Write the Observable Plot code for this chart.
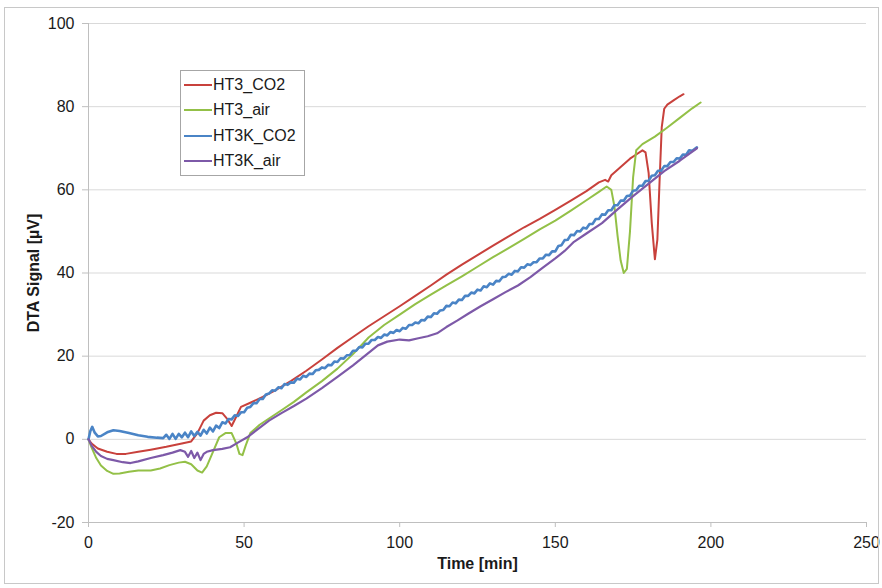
<!DOCTYPE html>
<html>
<head>
<meta charset="utf-8">
<script src="https://cdn.jsdelivr.net/npm/d3@7"></script>
<script src="https://cdn.jsdelivr.net/npm/@observablehq/plot@0.6"></script>
<style>
  html, body { margin: 0; padding: 0; background: #fff; }
  #wrap { position: relative; width: 882px; height: 588px; overflow: hidden; font-family: 'Liberation Sans', Arial, sans-serif; }
  #frame { position: absolute; left: 4px; top: 7px; width: 875px; height: 577px; border: 1px solid #c8c8c8; box-sizing: border-box; pointer-events: none; }
  #legend { position: absolute; left: 180px; top: 70px; width: 125px; height: 106px; border: 1px solid #a6a6a6; background: #fff; box-sizing: border-box; padding-top: 1px; }
  .row { height: 25.5px; display: flex; align-items: center; font-size: 16px; color: #1a1a1a; }
  .row svg { margin-left: 3px; margin-right: 1px; }
  svg [aria-label="x-axis tick"], svg [aria-label="y-axis tick"] { stroke: #bfbfbf; }
  svg [aria-label="x-axis label"], svg [aria-label="y-axis label"],
  svg [aria-label="x-axis label"] text, svg [aria-label="y-axis label"] text { font-weight: bold; }
</style>
</head>
<body>
<div id="wrap">
  <div id="chart"></div>
  <div id="legend"></div>
  <div id="frame"></div>
</div>
<script>
// ---- data (time [min], DTA signal [µV]) ----
const seriesNames = ["HT3_CO2", "HT3_air", "HT3K_CO2", "HT3K_air"];
const seriesColors = ["#C8413C", "#93C047", "#4A84C6", "#7D59A8"];
const xTicks = [0, 50, 100, 150, 200, 250];
const yTicks = [-20, 0, 20, 40, 60, 80, 100];
const gridY = [0, 20, 40, 60, 80, 100];

const ht3CO2 = [
  [0,0],[1,-1],[3,-2.2],[6,-3],[9,-3.5],[12,-3.5],[16,-3],[20,-2.5],[25,-1.8],[30,-1],[33,-0.5],
  [35,1.5],[37,4.5],[39,5.8],[41,6.4],[43,6.3],[44.5,5],[46,3.2],[47.5,5.5],[49,7.8],[52,8.8],
  [56,10.2],[60,11.8],[65,14],[70,16.5],[75,19.2],[80,22],[85,24.6],[90,27.2],[95,29.6],[100,32],
  [105,34.5],[110,37],[115,39.6],[120,42],[125,44.3],[130,46.6],[135,48.8],[140,51],[145,53],
  [150,55.2],[155,57.4],[160,59.7],[164,61.8],[166,62.4],[167,62],[168,63.5],[171,65.5],[174,67.5],
  [176,68.5],[178,69.5],[179,69],[180,64],[181,52],[182,43.3],[182.8,48],[183.5,62],[184.2,75],
  [185,79.5],[186,80.5],[188,81.5],[190,82.5],[191.2,83]
];
const ht3Air = [
  [0,0],[1,-2],[2.5,-4.5],[4,-6.3],[6,-7.6],[8,-8.3],[10,-8.2],[13,-7.8],[16,-7.5],[20,-7.5],
  [23,-7],[26,-6.2],[29,-5.6],[31,-5.4],[33,-6],[35,-7.5],[36.5,-8],[38,-6.5],[40,-3],[42,0.5],
  [44,1.5],[46,1.5],[47.5,-1],[48.5,-3.5],[49.5,-3.8],[50.5,-1.5],[52,1.5],[55,3.5],[58,5],
  [62,7],[66,9],[70,11.3],[75,14],[80,17],[85,20.5],[90,24.5],[95,27.5],[100,30],[105,32.5],
  [110,34.8],[115,37],[120,39.2],[125,41.5],[130,43.8],[135,46],[140,48.2],[145,50.5],[150,52.6],
  [155,55],[160,57.5],[164,59.5],[166.5,60.8],[168,60],[169,56],[170,49],[171,43],[172,40],
  [173,41],[174,50],[175,63],[176,69.5],[178,71],[182,72.8],[186,75],[190,77.3],[194,79.6],[196.7,81]
];
const ht3kCO2 = [
  [0,0],[0.6,2],[1.2,3],[2,1.6],[3,0.7],[4,0.8],[6,1.7],[8,2.2],[10,2],[13,1.5],[16,1],[19,0.6],
  [22,0.4],[24,0.3],[25,1.1],[26,0.1],[27,1.3],[28,0.1],[29,1.3],[30,0.5],[31,1.6],[32,0.5],[33,1.9],
  [34,0.8],[35,1.8],[36,0.9],[37,2.3],[38,1.4],[39,2.8],[40,1.9],[41,3.3],[42,2.7],[43,4.1],[44,3.8],
  [45,4.9],[46,4.8],[47,5.8],[48,5.6],[49,6.5],[50,6.5],[51,7.6],[52,7.8],[53,8.7],[54,8.7],[55,9.7],
  [56,9.7],[57,10.8],[58,11],[59,11.8],[60,11.7],[61,12.5],[62,12.3],[63,13.3],[64,13.1],[65,13.7],
  [66,13.6],[67,14.6],[68,14.4],[69,15.3],[70,15],[71,15.8],[72,15.7],[73,16.6],[74,16.7],[75,17.3],
  [76,17.1],[77,17.9],[78,17.8],[79,18.7],[80,18.6],[81,19.5],[82,19.4],[83,20.2],[84,20.3],[85,21.3],
  [86,21.3],[87,22.2],[88,22.1],[89,23],[90,23],[91,23.9],[92,23.9],[93,24.6],[94,24.4],[95,25.2],
  [96,25],[97,25.8],[98,25.6],[99,26.3],[100,26],[101,26.8],[102,26.6],[103,27.5],[104,27.5],[105,28.1],
  [106,27.9],[107,28.7],[108,28.6],[109,29.5],[110,29.4],[111,30.3],[112,30.2],[113,31],[114,31.1],
  [115,32.1],[116,32],[117,32.9],[118,32.7],[119,33.6],[120,33.5],[121,34.5],[122,34.5],[123,35.3],
  [124,35.1],[125,36],[126,35.8],[127,36.8],[128,36.6],[129,37.5],[130,37.2],[131,38.1],[132,38],
  [133,39],[134,39.1],[135,39.8],[136,39.6],[137,40.5],[138,40.4],[139,41.4],[140,41.3],[141,42.1],
  [142,41.9],[143,42.6],[144,42.6],[145,43.5],[146,43.5],[147,44.4],[148,44.3],[149,45.2],[150,45.2],
  [151,46.5],[152,46.7],[153,47.9],[154,48],[155,49.2],[156,49.1],[157,50.1],[158,50],[159,50.9],
  [160,50.7],[161,51.8],[162,51.8],[163,53],[164,53],[165,54.1],[166,54],[167,55.1],[168,55.1],
  [169,56.3],[170,56.3],[171,57.4],[172,57.4],[173,58.5],[174,58.6],[175,59.8],[176,59.9],[177,61],
  [178,61],[179,62.1],[180,62.2],[181,63.4],[182,63.5],[183,64.6],[184,64.6],[185,65.7],[186,65.7],
  [187,66.7],[188,66.7],[189,67.6],[190,67.5],[191,68.5],[192,68.4],[193,69.5],[194,69.4],[195.5,70.2]
];
const ht3kAir = [
  [0,0],[1,-1.5],[2.5,-3],[4,-4],[6,-4.7],[8,-5],[11,-5.5],[13.5,-5.7],[16,-5.3],[20,-4.5],[24,-3.8],
  [27,-3.2],[29.5,-2.6],[31,-3],[32,-4.2],[33,-2.8],[34,-4.5],[35,-3.2],[36,-5],[37,-3.5],[38,-3],
  [40,-2.6],[43,-2.3],[45.5,-1.9],[48,-0.8],[51,0.5],[54,2.2],[58,4.5],[62,6.3],[66,8],[70,9.8],
  [75,12.3],[80,15],[85,17.8],[90,20.8],[93,22.6],[96,23.5],[100,24],[103,23.8],[106,24.3],[109,24.8],
  [112,25.5],[115,27],[118.6,28.6],[122,30.2],[126,32],[130,33.7],[134,35.4],[138,37],[142,39],
  [146,41.3],[150,43.5],[153,45.3],[156,47.5],[160,49.5],[165,52],[170,55.3],[175,58.5],[180,61.5],
  [185,64.5],[190,67],[195.5,70]
];
const seriesData = [ht3CO2, ht3Air, ht3kCO2, ht3kAir];
const seriesWidths = [2, 2, 2.6, 2.2];

const lineMarks = seriesData.map((arr, i) =>
  Plot.line(arr, {x: d => d[0], y: d => d[1], stroke: seriesColors[i], strokeWidth: seriesWidths[i], strokeLinejoin: "round"})
);

const fmt = d => String(d);
const chart = Plot.plot({
  width: 882, height: 588,
  marginLeft: 88, marginRight: 16, marginTop: 23, marginBottom: 66,
  style: {fontFamily: "'Liberation Sans', Arial, sans-serif", fontSize: "16px", color: "#1a1a1a", background: "transparent"},
  x: {domain: [0, 250], ticks: xTicks, tickFormat: fmt, tickSize: 5, tickPadding: 9, label: "Time [min]", labelAnchor: "center", labelOffset: 46, labelArrow: "none"},
  y: {domain: [-20, 100], ticks: yTicks, tickFormat: fmt, tickSize: 6, tickPadding: 8, label: "DTA Signal [µV]", labelAnchor: "center", labelOffset: 61, labelArrow: "none"},
  marks: [
    Plot.ruleY(gridY, {stroke: "#d9d9d9", strokeWidth: 1}),
    Plot.ruleY([-20], {stroke: "#bfbfbf", strokeWidth: 1}),
    Plot.ruleX([0], {stroke: "#bfbfbf", strokeWidth: 1}),
    ...lineMarks
  ]
});
document.getElementById("chart").appendChild(chart);

const legend = document.getElementById("legend");
seriesNames.forEach((name, i) => {
  const row = document.createElement("div");
  row.className = "row";
  row.innerHTML = `<svg width="28" height="4"><line x1="0" y1="2" x2="28" y2="2" stroke="${seriesColors[i]}" stroke-width="2"/></svg><span>${name}</span>`;
  legend.appendChild(row);
});
</script>
</body>
</html>
